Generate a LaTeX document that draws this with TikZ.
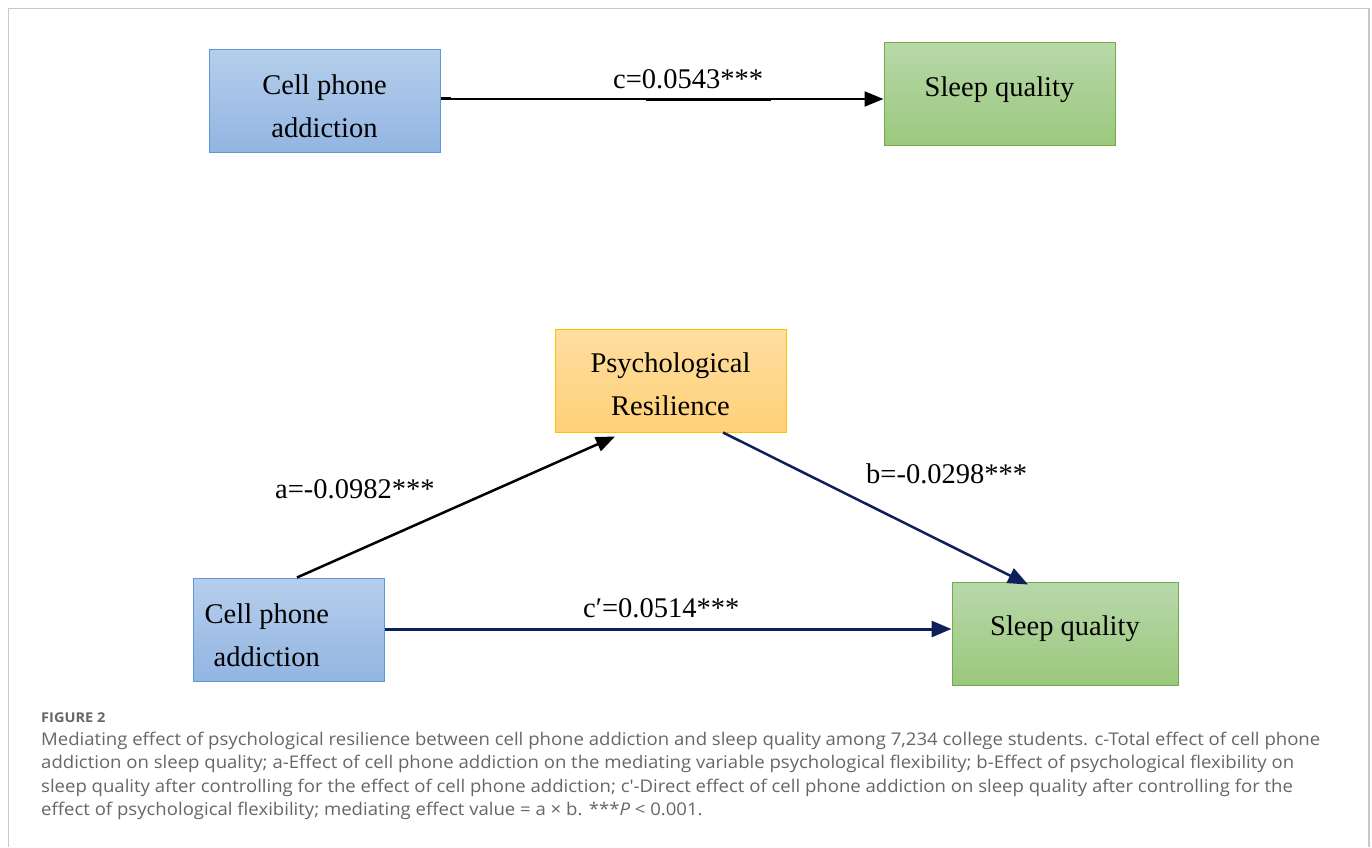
\documentclass[tikz,border=0pt]{standalone}
\usepackage{fontspec}
\usepackage{graphicx}
\setmainfont{Liberation Serif}
\newfontfamily\capfont{Open Sans}
\usetikzlibrary{arrows.meta,calc}
\definecolor{bluetop}{HTML}{B6CEEC}
\definecolor{bluebot}{HTML}{92B5E2}
\definecolor{blueline}{HTML}{5B9BD5}
\definecolor{greentop}{HTML}{B8D8AA}
\definecolor{greenbot}{HTML}{9BC87D}
\definecolor{greenline}{HTML}{70AD47}
\definecolor{orangetop}{HTML}{FFDEA0}
\definecolor{orangebot}{HTML}{FFD078}
\definecolor{orangeline}{HTML}{FFC000}
\definecolor{navy}{HTML}{0E1F5C}
\definecolor{capgray}{HTML}{666666}
\definecolor{framegray}{HTML}{C8C8C8}
\newcommand{\capline}[1]{\scalebox{1.06}[1]{#1}}
\tikzset{
  box/.style={rectangle, line width=1pt, minimum width=231pt, minimum height=103pt, inner sep=0pt},
  bluebox/.style={box, draw=blueline, top color=bluetop, bottom color=bluebot},
  greenbox/.style={box, draw=greenline, top color=greentop, bottom color=greenbot},
  orangebox/.style={box, draw=orangeline, top color=orangetop, bottom color=orangebot},
  boxtext/.style={inner sep=0pt, font=\fontsize{28.5}{43}\selectfont, align=center},
  efflabel/.style={inner sep=0pt, font=\fontsize{28.5}{32}\selectfont, anchor=base west},
  arrblack/.style={draw=black, line width=2pt, -{Triangle[length=19pt,width=15pt]}},
  arrnavy/.style={draw=navy, line width=3pt, -{Triangle[length=20pt,width=16pt]}},
  captext/.style={inner sep=0pt, anchor=base west, text=capgray, font=\capfont\fontsize{17.5}{23}\selectfont},
}
\begin{document}
\begin{tikzpicture}[x=1pt,y=-1pt]
\useasboundingbox (0,0) rectangle (1372,847);
% frame
\coordinate (f1) at (8.5,847);
\coordinate (f2) at (8.5,8.5);
\coordinate (f3) at (1369,8.5);
\coordinate (f4) at (1369,847);
\draw[framegray, line width=1.5pt] (f1) -- (f2) -- (f3) -- (f4);

% top model
\node[bluebox] (tl) at (324.5,100.5) {};
\node[greenbox] (tr) at (999.5,93.5) {};
\node[boxtext] (tlT) at ([yshift=-5.5]tl.center) {Cell phone\\addiction};
\node[boxtext] (trT) at ([yshift=3.5]tr.center) {Sleep quality};
\draw[arrblack] ([yshift=1.5]tl.east) -- ([yshift=-5.5]tr.west);
\draw[black, line width=3pt] ([xshift=205,yshift=1]tl.east) -- ([xshift=330,yshift=1]tl.east);
\draw[black, line width=1.5pt] ([xshift=0,yshift=2.5]tl.east) -- ([xshift=10,yshift=2.5]tl.east);
\node[efflabel] (cT) at (613,88) {c=0.0543***};

% bottom model
\node[orangebox] (ps) at (670.5,380.5) {};
\node[bluebox, minimum width=191pt] (bl) at (288.5,629.5) {};
\node[greenbox, minimum width=226pt] (br) at (1065,633.5) {};
\node[boxtext] (psT) at ([yshift=-4]ps.center) {Psychological\\Resilience};
\node[boxtext, align=left, anchor=west] (blT) at ([xshift=12,yshift=-5.5]bl.west) {Cell phone\\\hspace*{9pt}addiction};
\node[boxtext] (brT) at ([yshift=4.5]br.center) {Sleep quality};

\draw[arrblack, line width=2.5pt] ([xshift=8.5]bl.north) -- ([xshift=-55.5,yshift=-4]ps.south);
\draw[arrnavy, line width=2.5pt] ([xshift=52.5]ps.south) -- ([xshift=-37,yshift=-3]br.north);
\draw[arrnavy] ([yshift=0.5]bl.east) -- ([yshift=4.5]br.west);

\node[efflabel] (aT) at (275,498) {a=-0.0982***};
\node[efflabel] (bT) at (866,483) {b=-0.0298***};
\node[efflabel] (cpT) at (583,617) {c′=0.0514***};

% caption
\node[inner sep=0pt, anchor=base west, text=capgray, font=\capfont\bfseries\fontsize{13.5}{16}\selectfont] (fig) at (41,722) {\scalebox{1.08}[1]{FIGURE 2}};
\node[captext] (cap1) at (41,745) {\capline{Mediating effect of psychological resilience between cell phone addiction and sleep quality among 7,234 college students. c-Total effect of cell phone}};
\node[captext] (cap2) at (41,768.5) {\capline{addiction on sleep quality; a-Effect of cell phone addiction on the mediating variable psychological flexibility; b-Effect of psychological flexibility on}};
\node[captext] (cap3) at (41,792) {\capline{sleep quality after controlling for the effect of cell phone addiction; c′-Direct effect of cell phone addiction on sleep quality after controlling for the}};
\node[captext] (cap4) at (41,815.5) {\capline{effect of psychological flexibility; mediating effect value = a × b. ***\textit{P} < 0.001.}};
\end{tikzpicture}
\end{document}
